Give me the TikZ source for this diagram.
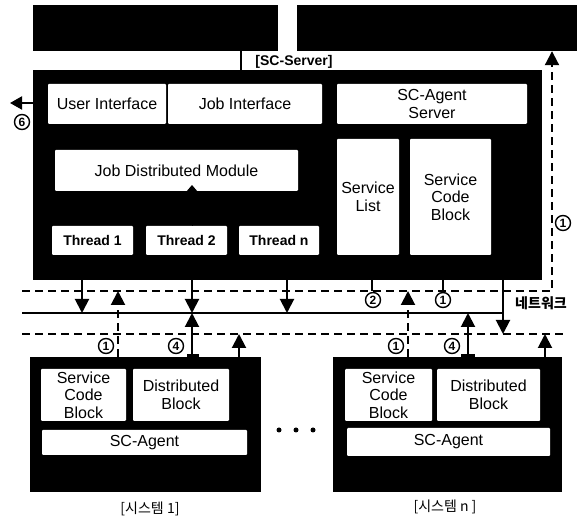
\documentclass[tikz,border=0pt]{standalone}
\usepackage{fontspec}
\setmainfont{Liberation Sans}
\newfontfamily\kr{Noto Sans CJK KR}
\usetikzlibrary{arrows.meta}
\begin{document}
\begin{tikzpicture}[x=1pt,y=-1pt,
  blk/.style={fill=black, draw=none, inner sep=0},
  wbox/.style={fill=white, draw=none, inner sep=0, align=center, rounded corners=1pt,
    font=\fontsize{16}{17.5}\selectfont},
  thr/.style={wbox, font=\bfseries\fontsize{14}{16}\selectfont},
  conn/.style={line width=2pt},
  arr/.style={line width=2pt, -{Triangle[length=14pt,width=14pt]}},
  dsh/.style={dash pattern=on 8pt off 5pt},
  cnum/.style={circle, draw, line width=1.4pt, inner sep=0, minimum size=15pt, fill=white,
    font=\bfseries\fontsize{12}{12}\selectfont},
  lbl/.style={inner sep=1pt, font=\fontsize{14}{16}\selectfont},
  dotn/.style={circle, fill=black, inner sep=0, minimum size=5pt}
]
\useasboundingbox (0,0) rectangle (579,518);

% top boxes
\node[blk, minimum width=245pt, minimum height=46pt] (tl) at (155.5,28) {};
\node[blk, minimum width=280pt, minimum height=46pt] (tr) at (437,28) {};

% server
\node[blk, minimum width=509pt, minimum height=210pt] (srv) at (287.5,175) {};
\node[lbl, font=\bfseries\fontsize{14}{16}\selectfont] (srvl) at (294,62) {[SC-Server]};
\coordinate (br) at (241,0);
\draw[line width=2.5pt] (tl.south -| br) -- (srv.north -| br);

\node[wbox, minimum width=118pt, minimum height=40pt] (ui) at (107,104) {User Interface};
\node[wbox, minimum width=154pt, minimum height=40pt] (ji) at (245,104) {Job Interface};
\node[wbox, minimum width=190pt, minimum height=40pt] (sca) at (432,104) {SC-Agent\\Server};
\node[wbox, minimum width=243pt, minimum height=41pt] (jdm) at (176.5,170.5) {Job Distributed Module};
\node[thr, minimum width=81pt, minimum height=29pt] (t1) at (92.5,240.5) {Thread 1};
\node[thr, minimum width=81pt, minimum height=29pt] (t2) at (186.5,240.5) {Thread 2};
\node[thr, minimum width=80pt, minimum height=29pt] (tn) at (279,240.5) {Thread n};
\node[wbox, minimum width=62pt, minimum height=116pt] (sl) at (368,197) {Service\\List};
\node[wbox, minimum width=81pt, minimum height=116pt] (scb) at (450.5,197) {Service\\Code\\Block};

\coordinate (jn) at (192,185);
\draw[line width=1pt, -{Triangle[length=6pt,width=10pt]}] (t2.north -| jn) -- (jn);

% systems
\node[blk, minimum width=231pt, minimum height=135pt] (sys1) at (145.5,424.5) {};
\node[wbox, minimum width=85pt, minimum height=52pt] (s1scb) at (83.5,395) {Service\\Code\\Block};
\node[wbox, minimum width=96pt, minimum height=52pt] (s1db) at (181,395) {Distributed\\Block};
\node[wbox, minimum width=205pt, minimum height=25pt] (s1ag) at (144.5,442.5) {SC-Agent};
\node[lbl, font=\kr\fontsize{14}{16}\selectfont] (s1l) at (150,509) {[시스템 1]};

\node[blk, minimum width=229pt, minimum height=135pt] (sysn) at (447.5,424.5) {};
\node[wbox, minimum width=87pt, minimum height=52pt] (snscb) at (388.5,395) {Service\\Code\\Block};
\node[wbox, minimum width=103pt, minimum height=52pt] (sndb) at (488.5,395) {Distributed\\Block};
\node[wbox, minimum width=203pt, minimum height=28pt] (snag) at (448.5,442) {SC-Agent};
\node[lbl, font=\kr\fontsize{14}{16}\selectfont] (snl) at (445,507) {[시스템 n ]};

\node[dotn] (d1) at (279,430) {};
\node[dotn] (d2) at (296,430) {};
\node[dotn] (d3) at (313,430) {};

% network lines
\coordinate (dAl) at (22,291); \coordinate (dAr) at (552,291);
\coordinate (netl) at (22,313); \coordinate (netr) at (502,313);
\coordinate (dBl) at (22,334); \coordinate (dBr) at (563,334);
\draw[conn] (netl) -- (netr);
\draw[conn, dsh] (dBl) -- (dBr);
\draw[arr, dsh] (dAl) -- (dAr) -- (dAr |- tr.south);
\node[lbl, font=\kr\bfseries\fontsize{14}{16}\selectfont] (netlbl) at (541,303) {네트워크};

% server -> network
\coordinate (a1) at (82,313);
\coordinate (a3) at (192,313);
\coordinate (a4) at (287,313);
\coordinate (a10) at (503,334);
\draw[arr] (srv.south -| a1) -- (a1);
\draw[arr] (srv.south -| a3) -- (a3);
\draw[arr] (srv.south -| a4) -- (a4);
\draw[arr] (srv.south -| a10) -- (a10);
\coordinate (k2) at (372,291);
\coordinate (k1) at (443,291);
\draw[conn] (srv.south -| k2) -- (k2);
\draw[conn] (srv.south -| k1) -- (k1);

% systems -> network
\coordinate (b1) at (118,291);
\coordinate (b5) at (239,334);
\coordinate (b8) at (408,291);
\coordinate (b9) at (468,313);
\coordinate (b11) at (545,334);
\draw[arr, dsh] (sys1.north -| b1) -- (b1);
\draw[arr] (sys1.north -| a3) -- (a3);
\draw[arr] (sys1.north -| b5) -- (b5);
\draw[arr, dsh] (sysn.north -| b8) -- (b8);
\draw[arr] (sysn.north -| b9) -- (b9);
\draw[arr] (sysn.north -| b11) -- (b11);
\draw[line width=3pt] ([xshift=-5pt,yshift=1.5pt]sys1.north -| a3) -- ([xshift=7pt,yshift=1.5pt]sys1.north -| a3);
\draw[line width=3pt] ([xshift=-7pt,yshift=1.5pt]sysn.north -| b9) -- ([xshift=7pt,yshift=1.5pt]sysn.north -| b9);

% user arrow
\coordinate (six) at (10,103);
\draw[line width=2pt, -{Triangle[length=12pt,width=13pt]}] (srv.west |- six) -- (six);

% circled numbers
\node[cnum] (c6) at (22,122) {6};
\node[cnum] (c1r) at (563,223) {1};
\node[cnum] (c2) at (373,300) {2};
\node[cnum] (c1m) at (443,300) {1};
\node[cnum] (c1a) at (106,346) {1};
\node[cnum] (c4a) at (176,346) {4};
\node[cnum] (c1b) at (396,346) {1};
\node[cnum] (c4b) at (452,346) {4};
\end{tikzpicture}
\end{document}
